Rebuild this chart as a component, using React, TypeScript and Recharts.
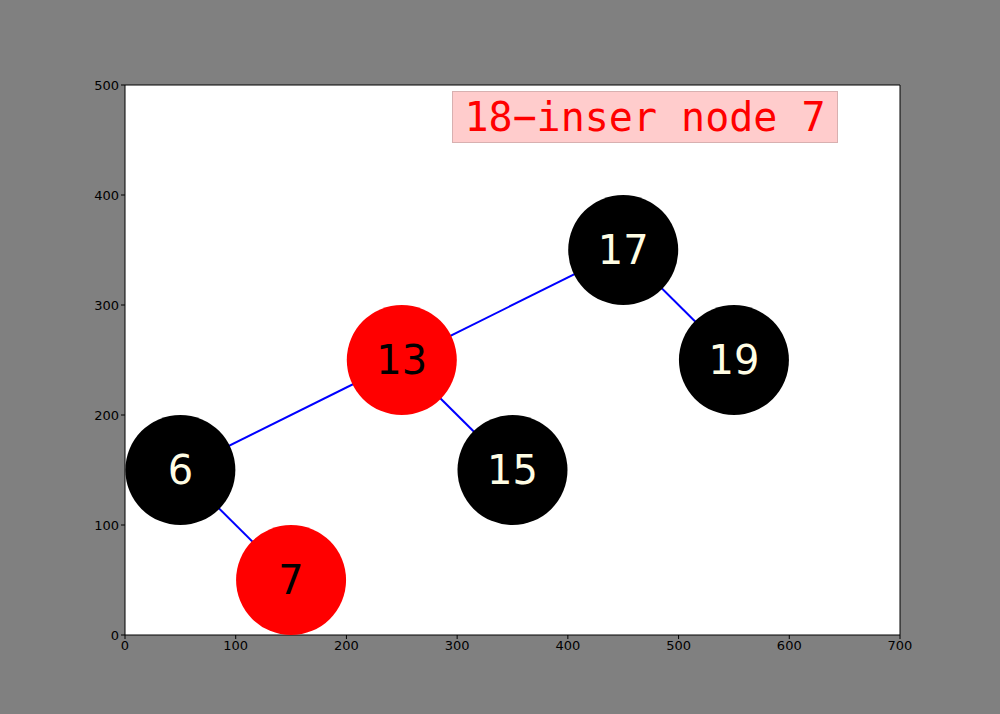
import { ScatterChart, Scatter, XAxis, YAxis, ReferenceLine } from 'recharts'

const nodeKeys = [6, 7, 13, 15, 17, 19]
const nodeX = [50, 150, 250, 350, 450, 550]
const nodeY = [150, 50, 250, 150, 350, 250]
const nodeColor = ['black', 'red', 'red', 'black', 'black', 'black']
const edges: [number, number][] = [
  [17, 13],
  [17, 19],
  [13, 6],
  [13, 15],
  [6, 7],
]
const xTicks = [0, 100, 200, 300, 400, 500, 600, 700]
const yTicks = [0, 100, 200, 300, 400, 500]
const title = '18−inser node 7'

const nodes = nodeKeys.map((k, i) => ({ key: k, x: nodeX[i], y: nodeY[i], color: nodeColor[i] }))
const byKey = (k: number) => nodes.find((n) => n.key === k)!

const tickStyle = { fill: '#000', fontSize: 13, fontFamily: 'DejaVu Sans' }

const NodeCircle = (p: any) => <circle cx={p.cx} cy={p.cy} r={55} fill={p.payload.color} />
const NodeLabel = (p: any) => (
  <text
    x={p.cx}
    y={p.cy}
    textAnchor="middle"
    dominantBaseline="central"
    fontSize={40}
    fontFamily="DejaVu Sans"
    fill={p.payload.color === 'black' ? '#fffde4' : '#000'}
  >
    {p.payload.key}
  </text>
)

export default function App() {
  return (
    <div style={{ position: 'fixed', left: 0, top: 0, width: 1000, height: 714, background: '#808080' }}>
      <ScatterChart width={1000} height={714} margin={{ top: 85, right: 100, bottom: 49, left: 85 }}>
        <rect x={125} y={85} width={775} height={550} fill="#fff" />
        <XAxis
          type="number"
          dataKey="x"
          domain={[0, 700]}
          ticks={xTicks}
          height={30}
          stroke="#000"
          tick={tickStyle}
          tickSize={4}
          allowDataOverflow
        />
        <YAxis
          type="number"
          dataKey="y"
          domain={[0, 500]}
          ticks={yTicks}
          width={40}
          stroke="#000"
          tick={tickStyle}
          tickSize={4}
          allowDataOverflow
        />
        <ReferenceLine segment={[{ x: 700, y: 0 }, { x: 700, y: 500 }]} stroke="#000" />
        <ReferenceLine segment={[{ x: 0, y: 500 }, { x: 700, y: 500 }]} stroke="#000" />
        <Scatter data={nodes} shape={NodeCircle} isAnimationActive={false} />
        {edges.map(([a, b]) => (
          <ReferenceLine
            key={`${a}-${b}`}
            segment={[
              { x: byKey(a).x, y: byKey(a).y },
              { x: byKey(b).x, y: byKey(b).y },
            ]}
            stroke="blue"
            strokeWidth={2}
          />
        ))}
        <Scatter data={nodes} shape={NodeLabel} isAnimationActive={false} />
      </ScatterChart>
      <div
        style={{
          position: 'absolute',
          left: 452,
          top: 91,
          width: 384,
          height: 50,
          background: '#ffcccc',
          border: '1px solid #d8b0b0',
          color: 'red',
          fontFamily: 'DejaVu Sans Mono',
          fontSize: 40,
          lineHeight: '50px',
          textAlign: 'center',
          whiteSpace: 'nowrap',
        }}
      >
        {title}
      </div>
    </div>
  )
}
